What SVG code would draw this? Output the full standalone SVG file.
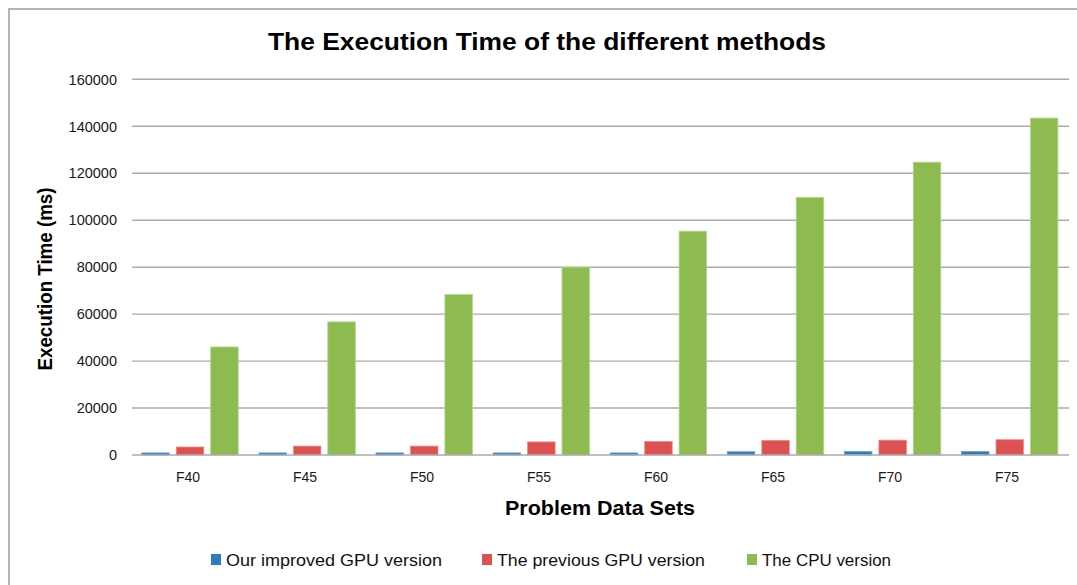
<svg xmlns="http://www.w3.org/2000/svg" width="1077" height="585" viewBox="0 0 1077 585">
  <style>
    .frame { fill: none; stroke: #b4b4b4; stroke-width: 2; }
    .grid { stroke: #ababab; stroke-width: 1.4; }
    .ytick { font-family: "Liberation Sans", Arial, sans-serif; font-size: 14.5px; fill: #1a1a1a; text-anchor: end; }
    .xtick { font-family: "Liberation Sans", Arial, sans-serif; font-size: 14px; fill: #1a1a1a; text-anchor: middle; }
    .title { font-family: "Liberation Sans", Arial, sans-serif; font-weight: bold; fill: #000; }
    .legend { font-family: "Liberation Sans", Arial, sans-serif; font-size: 17px; fill: #111; }
    .s1 { fill: #2f7dc0; stroke: #6aa3d6; stroke-width: 0.8; }
    .s2 { fill: #de5151; stroke: #ee8a8a; stroke-width: 0.8; }
    .s3 { fill: #8dbb50; stroke: #b3d68c; stroke-width: 0.8; }
  </style>

  <rect width="1077" height="585" fill="#ffffff"/>

  <!-- chart area frame: left and top edges -->
  <path class="frame" d="M9,585 V9 H1077"/>

  <!-- title -->
  <text id="chart-title" class="title" x="547" y="50" font-size="24" text-anchor="middle" textLength="558" lengthAdjust="spacingAndGlyphs">The Execution Time of the different methods</text>

  <!-- horizontal gridlines (0 to 160000 in steps of 20000) -->
  <g id="gridlines">
    <line class="grid" x1="132" y1="79.3" x2="1069" y2="79.3"/>
    <line class="grid" x1="132" y1="126.3" x2="1069" y2="126.3"/>
    <line class="grid" x1="132" y1="173.2" x2="1069" y2="173.2"/>
    <line class="grid" x1="132" y1="220.2" x2="1069" y2="220.2"/>
    <line class="grid" x1="132" y1="267.2" x2="1069" y2="267.2"/>
    <line class="grid" x1="132" y1="314.1" x2="1069" y2="314.1"/>
    <line class="grid" x1="132" y1="361.1" x2="1069" y2="361.1"/>
    <line class="grid" x1="132" y1="408.0" x2="1069" y2="408.0"/>
  </g>

  <!-- y axis tick labels -->
  <g id="y-axis">
    <text class="ytick" x="117" y="84.5">160000</text>
    <text class="ytick" x="117" y="131.5">140000</text>
    <text class="ytick" x="117" y="178.4">120000</text>
    <text class="ytick" x="117" y="225.4">100000</text>
    <text class="ytick" x="117" y="272.4">80000</text>
    <text class="ytick" x="117" y="319.3">60000</text>
    <text class="ytick" x="117" y="366.3">40000</text>
    <text class="ytick" x="117" y="413.2">20000</text>
    <text class="ytick" x="117" y="460.2">0</text>
    <text id="y-title" class="title" font-size="20" text-anchor="middle" transform="translate(52,279) rotate(-90)" textLength="183" lengthAdjust="spacingAndGlyphs">Execution Time (ms)</text>
  </g>

  <!-- series: Our improved GPU version -->
  <g id="series-improved-gpu">
    <rect class="s1" x="141.8" y="452.9" width="27.5" height="2.1"/>
    <rect class="s1" x="258.9" y="452.9" width="27.5" height="2.1"/>
    <rect class="s1" x="376.0" y="452.9" width="27.5" height="2.1"/>
    <rect class="s1" x="493.1" y="452.9" width="27.5" height="2.1"/>
    <rect class="s1" x="610.2" y="452.9" width="27.5" height="2.1"/>
    <rect class="s1" x="727.3" y="451.7" width="27.5" height="3.3"/>
    <rect class="s1" x="844.4" y="451.5" width="27.5" height="3.5"/>
    <rect class="s1" x="961.5" y="451.5" width="27.5" height="3.5"/>
  </g>

  <!-- series: The previous GPU version -->
  <g id="series-previous-gpu">
    <rect class="s2" x="176.3" y="447.0" width="27.5" height="8.0"/>
    <rect class="s2" x="293.4" y="446.1" width="27.5" height="8.9"/>
    <rect class="s2" x="410.5" y="446.1" width="27.5" height="8.9"/>
    <rect class="s2" x="527.6" y="441.9" width="27.5" height="13.1"/>
    <rect class="s2" x="644.7" y="441.4" width="27.5" height="13.6"/>
    <rect class="s2" x="761.8" y="440.4" width="27.5" height="14.6"/>
    <rect class="s2" x="878.9" y="440.2" width="27.5" height="14.8"/>
    <rect class="s2" x="996.0" y="439.7" width="27.5" height="15.3"/>
  </g>

  <!-- series: The CPU version -->
  <g id="series-cpu">
    <rect class="s3" x="210.7" y="347.0" width="27.5" height="108.0"/>
    <rect class="s3" x="327.8" y="321.9" width="27.5" height="133.1"/>
    <rect class="s3" x="444.9" y="294.4" width="27.5" height="160.6"/>
    <rect class="s3" x="562.0" y="267.2" width="27.5" height="187.8"/>
    <rect class="s3" x="679.1" y="231.2" width="27.5" height="223.8"/>
    <rect class="s3" x="796.2" y="197.4" width="27.5" height="257.6"/>
    <rect class="s3" x="913.3" y="162.2" width="27.5" height="292.8"/>
    <rect class="s3" x="1030.4" y="118.1" width="27.5" height="336.9"/>
  </g>

  <!-- category axis -->
  <g id="x-axis">
    <line class="grid" x1="132" y1="455" x2="1069" y2="455"/>
    <text class="xtick" x="188" y="482">F40</text>
    <text class="xtick" x="305" y="482">F45</text>
    <text class="xtick" x="422" y="482">F50</text>
    <text class="xtick" x="539" y="482">F55</text>
    <text class="xtick" x="656" y="482">F60</text>
    <text class="xtick" x="773" y="482">F65</text>
    <text class="xtick" x="890" y="482">F70</text>
    <text class="xtick" x="1007" y="482">F75</text>
    <text id="x-title" class="title" x="600" y="515" font-size="20" text-anchor="middle" textLength="190" lengthAdjust="spacingAndGlyphs">Problem Data Sets</text>
  </g>

  <!-- legend -->
  <g id="legend">
    <rect x="211" y="554" width="10" height="11" fill="#2f7dc0"/>
    <text class="legend" x="226" y="566" textLength="216" lengthAdjust="spacingAndGlyphs">Our improved GPU version</text>
    <rect x="482" y="554" width="10" height="11" fill="#de5151"/>
    <text class="legend" x="497" y="566" textLength="208" lengthAdjust="spacingAndGlyphs">The previous GPU version</text>
    <rect x="747" y="554" width="10" height="11" fill="#8dbb50"/>
    <text class="legend" x="762" y="566" textLength="129" lengthAdjust="spacingAndGlyphs">The CPU version</text>
  </g>
</svg>
